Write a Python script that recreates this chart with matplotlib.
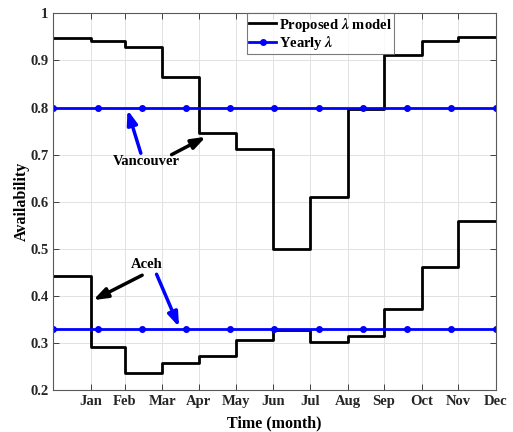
import numpy as np
import matplotlib
matplotlib.use('Agg')
from matplotlib import pyplot as plt

# month boundaries in days, tick labels at the end of each month
month_edges = [0, 31, 59, 90, 120, 151, 181, 212, 243, 273, 304, 334, 365]
month_labels = ['Jan', 'Feb', 'Mar', 'Apr', 'May', 'Jun',
                'Jul', 'Aug', 'Sep', 'Oct', 'Nov', 'Dec']

# proposed monthly availability
vancouver = [0.948, 0.942, 0.928, 0.865, 0.747, 0.713,
             0.500, 0.610, 0.797, 0.912, 0.941, 0.950]
aceh = [0.443, 0.292, 0.236, 0.257, 0.272, 0.306,
        0.327, 0.303, 0.314, 0.372, 0.462, 0.560]

# yearly constant availability
yearly_days = [0, 36.5, 73, 109.5, 146, 182.5, 219, 255.5, 292, 328.5, 365]
vancouver_yearly = 0.80
aceh_yearly = 0.33

plt.rcParams['font.family'] = ['Liberation Serif', 'DejaVu Serif']
plt.rcParams['font.weight'] = 'bold'
plt.rcParams['mathtext.fontset'] = 'stix'

fig = plt.figure(figsize=(5.13, 4.32), dpi=100)
ax = fig.add_axes([0.104, 0.097, 0.862, 0.872])

ax.step(month_edges, vancouver + [vancouver[-1]], where='post', color='k', lw=2,
        label=r'Proposed $\lambda$ model')
ax.step(month_edges, aceh + [aceh[-1]], where='post', color='k', lw=2)

ax.plot(yearly_days, [vancouver_yearly] * len(yearly_days), color='#0000ff', lw=2,
        marker='o', ms=4, label=r'Yearly $\lambda$')
ax.plot(yearly_days, [aceh_yearly] * len(yearly_days), color='#0000ff', lw=2,
        marker='o', ms=4)

ax.set_xlim(0, 365)
ax.set_ylim(0.2, 1.0)
ax.set_xticks(month_edges[1:])
ax.set_xticklabels(month_labels)
ax.set_yticks([0.2, 0.3, 0.4, 0.5, 0.6, 0.7, 0.8, 0.9, 1.0])
ax.set_yticklabels(['0.2', '0.3', '0.4', '0.5', '0.6', '0.7', '0.8', '0.9', '1'])
ax.tick_params(direction='in', top=True, right=True, labelsize=10.5,
               colors='#262626', length=4, width=0.6)
for lab in ax.get_xticklabels() + ax.get_yticklabels():
    lab.set_fontweight('bold')
ax.grid(True, color='#e2e2e2', lw=0.7)
ax.set_axisbelow(True)
for s in ax.spines.values():
    s.set_color('#5a5a5a')
    s.set_linewidth(0.8)

ax.set_xlabel('Time (month)', fontsize=11.5, fontweight='bold', labelpad=5)
ax.set_ylabel('Availability', fontsize=11.5, fontweight='bold', labelpad=0)

# annotations
arr_k = dict(arrowstyle='-|>,head_length=0.7,head_width=0.25', color='k', lw=2.5,
             mutation_scale=12, shrinkA=0, shrinkB=0)
arr_b = dict(arrowstyle='-|>,head_length=0.7,head_width=0.25', color='#0000ff', lw=2.5,
             mutation_scale=12, shrinkA=0, shrinkB=0)
ax.text(76.9, 0.685, 'Vancouver', ha='center', va='center', fontsize=10.5,
        fontweight='bold')
ax.annotate('', xy=(61.2, 0.795), xytext=(72.2, 0.703), arrowprops=arr_b)
ax.annotate('', xy=(125.9, 0.738), xytext=(97.6, 0.700), arrowprops=arr_k)
ax.text(76.9, 0.466, 'Aceh', ha='center', va='center', fontsize=10.5,
        fontweight='bold')
ax.annotate('', xy=(32.9, 0.391), xytext=(73.3, 0.444), arrowprops=arr_k)
ax.annotate('', xy=(103.8, 0.334), xytext=(85.2, 0.446), arrowprops=arr_b)

leg = ax.legend(loc='upper center', bbox_to_anchor=(0.604, 1.0), fontsize=10.5,
                frameon=True, fancybox=False, borderpad=0.15, labelspacing=0.05,
                handlelength=1.8, handletextpad=0.2, borderaxespad=0)
leg.get_frame().set_edgecolor('#5a5a5a')
leg.get_frame().set_linewidth(0.8)
for t in leg.get_texts():
    t.set_fontweight('bold')

fig.savefig('out.png', dpi=100)
